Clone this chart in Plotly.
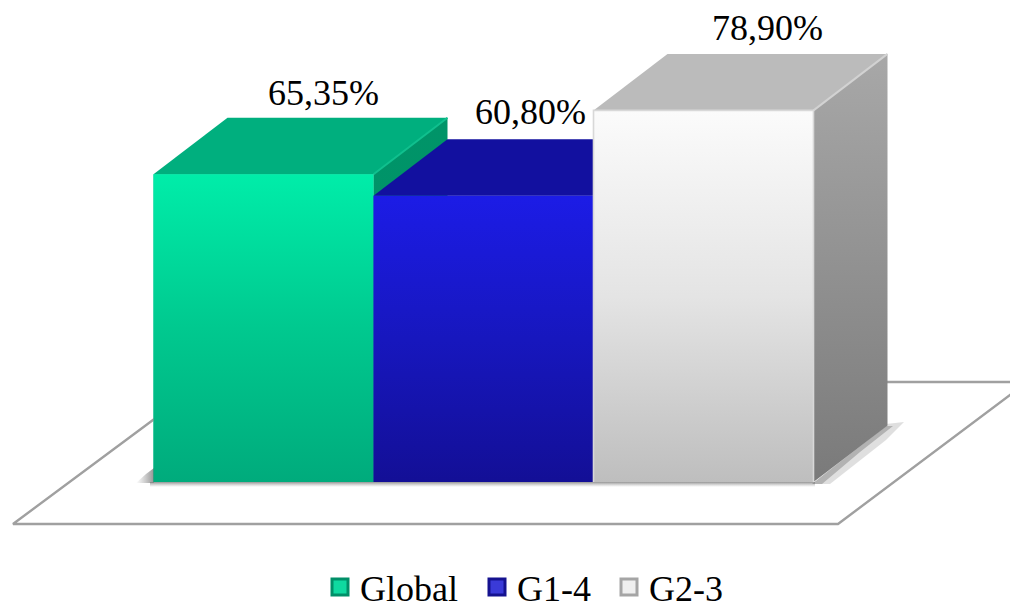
import plotly.graph_objects as go

categories = ["Global", "G1-4", "G2-3"]
values = [65.35, 60.80, 78.90]
labels = ["65,35%", "60,80%", "78,90%"]

W, H = 1010, 603
PX_X = 220.0      # pixels per category
PX_Y = 4.71       # pixels per percent
X0_PX = 263.5     # pixel of first bar centre
Y0_PX = 482.0     # pixel of value 0
DX = 74 / PX_X    # depth offset, x
DY = 56.5 / PX_Y  # depth offset, y
HW = 0.5
FONT = "Liberation Serif"

def xu(px): return (px - X0_PX) / PX_X
def yu(py): return (Y0_PX - py) / PX_Y

palette = {
    "Global": dict(front=["#00EDA9", "#00C98F", "#00AB7C"], top="#00AF7E", side=["#009468", "#00906A"],
                   mid="#00C48C", edge="#10C08E", key="#0FD9A0", keyline="#008F68"),
    "G1-4": dict(front=["#1C1CE6", "#1717BE", "#130F96"], top="#12109F", side=["#12109F", "#12109F"],
                 mid="#1717BE", edge="#12109F", key="#3A3AD8", keyline="#15128F"),
    "G2-3": dict(front=["#FBFBFB", "#E4E4E4", "#BEBEBE"], top="#BBBBBB", side=["#A8A8A8", "#7A7A7A"],
                 mid="#E0E0E0", edge="#D2D2D2", key="#EFEFEF", keyline="#A5A5A5"),
}
label_dx = {"Global": 60 / PX_X, "G1-4": 47 / PX_X, "G2-3": 64 / PX_X}
label_dy = {"Global": 78 / PX_Y, "G1-4": 81 / PX_Y, "G2-3": 79 / PX_Y}
legend_x = {"Global": 320, "G1-4": 477, "G2-3": 609}

def grad(cols):
    # plotly's vertical fill gradient runs bottom to top
    cols = cols[::-1]
    n = len(cols) - 1
    return dict(type="vertical", colorscale=[[i / n, c] for i, c in enumerate(cols)])

def hgrad(c0, c1):
    return dict(type="horizontal", colorscale=[[0, c0], [1, c1]])

fig = go.Figure()

# real bars (front faces)
for i, (c, v) in enumerate(zip(categories, values)):
    fig.add_trace(go.Bar(x=[i], y=[v], width=[2 * HW], marker=dict(color=palette[c]["mid"], line=dict(width=0)),
                         showlegend=False, hoverinfo="skip"))

def poly(xs, ys, color=None, gradient=None, line=None):
    kw = dict(x=xs, y=ys, mode="lines", fill="toself", showlegend=False, hoverinfo="skip",
              line=line or dict(width=0))
    if gradient:
        kw["fillgradient"] = gradient
    else:
        kw["fillcolor"] = color
    fig.add_trace(go.Scatter(**kw))

# floor
floor_line = dict(color="#A0A0A0", width=2.4)
fig.add_trace(go.Scatter(x=[xu(1012), xu(838), xu(13), xu(155)], y=[yu(393.5), yu(524), yu(524), yu(418.5)],
                         mode="lines", line=floor_line, showlegend=False, hoverinfo="skip"))
fig.add_trace(go.Scatter(x=[xu(885), xu(1012)], y=[yu(382), yu(382)], mode="lines", line=floor_line,
                         showlegend=False, hoverinfo="skip"))

# soft shadows
poly([xu(136), xu(154), xu(154), xu(146)], [yu(483), yu(483), yu(468), yu(474)],
     gradient=hgrad("rgba(120,120,120,0)", "rgba(90,90,90,0.65)"))
poly([xu(150), xu(815), xu(815), xu(150)], [yu(482), yu(482), yu(487), yu(487)],
     gradient=dict(type="vertical", colorscale=[[0, "rgba(170,170,170,0)"], [1, "rgba(130,130,130,0.85)"]]))
poly([xu(812), xu(886), xu(904), xu(886), xu(830)], [yu(484), yu(424), yu(422), yu(440), yu(484)],
     "rgba(150,150,150,0.30)")
poly([xu(812), xu(886), xu(893), xu(860), xu(822)], [yu(484), yu(426), yu(426), yu(452), yu(484)],
     "rgba(110,110,110,0.40)")

# painter's order, left to right
for i in range(len(categories)):
    c, v = categories[i], values[i]
    st = palette[c]
    L, R = i - HW, i + HW
    poly([R, R + DX, R + DX, R, R], [0, DY, v + DY, v, 0], gradient=grad(st["side"]))
    poly([L, L + DX, R + DX, R, L], [v, v + DY, v + DY, v, v], st["top"])
    fig.add_trace(go.Scatter(x=[R, R + DX], y=[v, v + DY], mode="lines", line=dict(color=st["edge"], width=2),
                             showlegend=False, hoverinfo="skip"))
    poly([L, R, R, L, L], [0, 0, v, v, 0], gradient=grad(st["front"]))

# rim of the light bar
fig.add_trace(go.Scatter(x=[1.5, 1.5, 2.5, 2.5], y=[0, values[2], values[2], 0], mode="lines",
                         line=dict(color="#D8D8D8", width=1.6), showlegend=False, hoverinfo="skip"))

# value labels
fig.add_trace(go.Scatter(
    x=[i + label_dx[c] for i, c in enumerate(categories)],
    y=[v + label_dy[c] for c, v in zip(categories, values)],
    text=labels, mode="text", textposition="middle center",
    textfont=dict(family=FONT, size=36, color="#000000"),
    showlegend=False, hoverinfo="skip"))

# legend entries: one legend per entry so each can sit at its own place
layout_legends = {}
for n, c in enumerate(categories):
    key = "legend" if n == 0 else f"legend{n + 1}"
    fig.add_trace(go.Scatter(
        x=[None], y=[None], mode="markers", name=c, legend=key,
        marker=dict(symbol="square", size=18, color=palette[c]["key"],
                    line=dict(width=3, color=palette[c]["keyline"]))))
    layout_legends[key] = dict(orientation="h", x=legend_x[c] / W, xanchor="left",
                               y=16 / H, yanchor="middle",
                               font=dict(family=FONT, size=36, color="#000000"), bgcolor="rgba(0,0,0,0)",
                               itemwidth=30)

fig.update_layout(
    width=W, height=H, autosize=False,
    margin=dict(l=0, r=0, t=0, b=0, autoexpand=False),
    paper_bgcolor="white", plot_bgcolor="white",
    barmode="overlay",
    xaxis=dict(range=[xu(0), xu(W)], visible=False, fixedrange=True),
    yaxis=dict(range=[yu(H), yu(0)], visible=False, fixedrange=True),
    font=dict(family=FONT),
    **layout_legends,
)

fig.write_html("out.html", config=dict(displayModeBar=False),
               post_script="document.body.style.margin='0';document.documentElement.style.overflow='hidden';")
